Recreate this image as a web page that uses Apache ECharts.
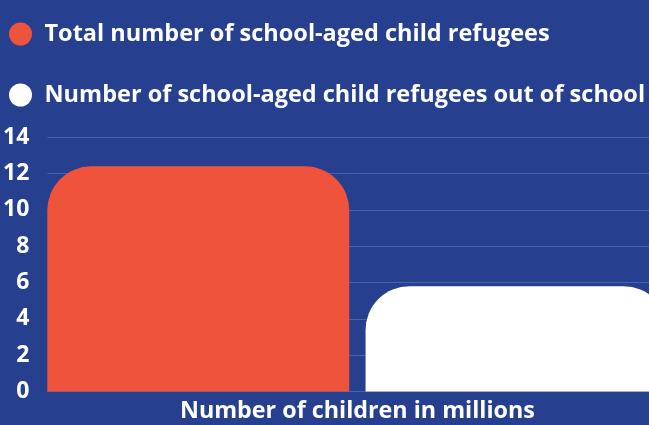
<!DOCTYPE html>
<html>
<head>
<meta charset="utf-8">
<script src="https://cdn.jsdelivr.net/npm/echarts@6/dist/echarts.min.js"></script>
<style>
html,body{margin:0;padding:0;background:#26408f;overflow:hidden;}
#c{width:668px;height:425px;}
</style>
</head>
<body>
<div id="c"></div>
<script>
var categories = ['Number of children in millions'];
var seriesNames = ['Total number of school-aged child refugees', 'Number of school-aged child refugees out of school'];
var totalValues = [12.4];
var outOfSchoolValues = [5.8];
var yTicks = [0, 2, 4, 6, 8, 10, 12, 14];

var font = 'Open Sans';
var chart = echarts.init(document.getElementById('c'));
chart.setOption({
  backgroundColor: '#26408f',
  animation: false,
  legend: {
    orient: 'vertical',
    left: 9,
    top: 22,
    padding: 0,
    itemWidth: 24,
    itemHeight: 23,
    itemGap: 37,
    icon: 'circle',
    textStyle: { color: '#ffffff', fontFamily: font, fontWeight: 'bold', fontSize: 23.5, lineHeight: 23, padding: [0, 0, 0, 7] },
    data: seriesNames
  },
  grid: { left: 44, right: 0.5, top: 137.3, bottom: 33.5, containLabel: false },
  xAxis: {
    type: 'category',
    data: categories,
    axisLine: { show: false },
    axisTick: { show: false },
    axisLabel: { color: '#ffffff', fontFamily: font, fontWeight: 'bold', fontSize: 23.3, margin: 8 }
  },
  yAxis: {
    type: 'value',
    min: yTicks[0],
    max: yTicks[yTicks.length - 1],
    interval: 2,
    axisLine: { show: false },
    axisTick: { show: false },
    axisLabel: { color: '#ffffff', fontFamily: font, fontWeight: 'bold', fontSize: 23, margin: 18 },
    splitLine: { lineStyle: { color: '#4a63aa', width: 1 } }
  },
  series: [
    {
      name: seriesNames[0], type: 'bar', data: totalValues,
      barGap: '5.4%', barCategoryGap: '0%',
      itemStyle: { color: '#f0533c', borderRadius: [44, 44, 0, 0] }
    },
    {
      name: seriesNames[1], type: 'bar', data: outOfSchoolValues,
      itemStyle: { color: '#ffffff', borderRadius: [44, 44, 0, 0] }
    }
  ]
});
</script>
</body>
</html>
